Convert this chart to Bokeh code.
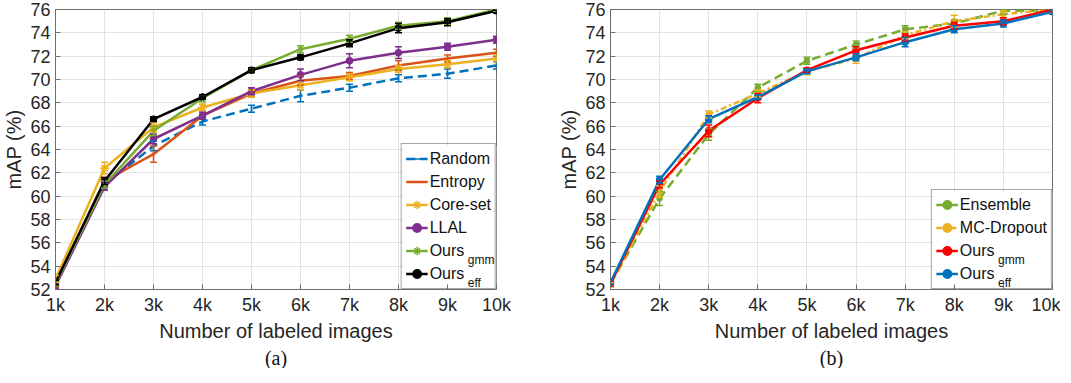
import math
from bokeh.plotting import figure
from bokeh.models import (ColumnDataSource, Whisker, TeeHead, Legend, LegendItem,
                          Title, FixedTicker, Range1d, BoxAnnotation)
from bokeh.core.properties import value
from bokeh.layouts import row
from bokeh.embed import file_html
from bokeh.resources import INLINE

# ---------------- data ----------------
x_vals = [1, 2, 3, 4, 5, 6, 7, 8, 9, 10]
x_labels = ["1k", "2k", "3k", "4k", "5k", "6k", "7k", "8k", "9k", "10k"]
y_ticks = [52, 54, 56, 58, 60, 62, 64, 66, 68, 70, 72, 74, 76]

# panel (a)
random_y = [52.5, 61.0, 64.3, 66.4, 67.5, 68.6, 69.3, 70.1, 70.5, 71.2]
random_e = [0.2, 0.3, 0.4, 0.3, 0.3, 0.5, 0.3, 0.3, 0.4, 0.3]
entropy_y = [52.4, 61.3, 63.6, 66.9, 68.8, 69.9, 70.3, 71.2, 71.8, 72.3]
entropy_e = [0.2, 0.3, 0.7, 0.3, 0.3, 0.4, 0.3, 0.4, 0.3, 0.3]
coreset_y = [52.9, 62.4, 65.9, 67.6, 68.8, 69.5, 70.2, 70.9, 71.3, 71.8]
coreset_e = [0.3, 0.5, 0.4, 0.3, 0.3, 0.4, 0.3, 0.3, 0.3, 0.3]
llal_y = [52.3, 60.8, 64.9, 66.9, 69.0, 70.4, 71.6, 72.3, 72.8, 73.4]
llal_e = [0.2, 0.3, 0.4, 0.3, 0.3, 0.5, 0.6, 0.5, 0.3, 0.3]
gmm_a_y = [52.5, 61.0, 65.6, 68.4, 70.8, 72.6, 73.5, 74.6, 75.0, 76.0]
gmm_a_e = [0.2, 0.3, 0.4, 0.3, 0.2, 0.3, 0.3, 0.3, 0.3, 0.2]
eff_a_y = [52.6, 61.3, 66.6, 68.5, 70.8, 71.9, 73.1, 74.4, 74.9, 75.9]
eff_a_e = [0.2, 0.3, 0.2, 0.2, 0.2, 0.2, 0.3, 0.4, 0.3, 0.2]

# panel (b)
ensemble_y = [52.5, 59.8, 65.3, 69.3, 71.6, 73.0, 74.3, 74.8, 75.9, 75.9]
ensemble_e = [0.2, 0.6, 0.5, 0.3, 0.3, 0.3, 0.3, 0.3, 0.3, 0.2]
mcdrop_y = [52.4, 60.4, 67.0, 68.8, 70.7, 71.8, 73.8, 75.0, 75.6, 76.0]
mcdrop_e = [0.2, 0.5, 0.3, 0.3, 0.3, 0.4, 0.3, 0.5, 0.3, 0.2]
gmm_b_y = [52.5, 61.0, 65.6, 68.4, 70.8, 72.5, 73.6, 74.6, 75.0, 76.0]
gmm_b_e = [0.2, 0.3, 0.5, 0.4, 0.2, 0.3, 0.3, 0.3, 0.3, 0.2]
eff_b_y = [52.6, 61.4, 66.6, 68.5, 70.7, 71.9, 73.2, 74.3, 74.8, 75.8]
eff_b_e = [0.2, 0.3, 0.3, 0.2, 0.2, 0.3, 0.4, 0.3, 0.3, 0.2]

FONT = "Liberation Sans"
FRAME_H = 280
PAD, GLYPH_W, STANDOFF, ROW_H, SPACING = 4, 22, 2, 21, 2


def make_fig(frame_w, border_l, border_r, tag):
    p = figure(frame_width=frame_w, frame_height=FRAME_H,
               x_range=Range1d(1, 10), y_range=Range1d(52, 76),
               output_backend="svg", toolbar_location=None,
               min_border_left=border_l, min_border_right=border_r,
               min_border_top=9, min_border_bottom=2)
    p.xaxis.ticker = FixedTicker(ticks=x_vals)
    p.xaxis.major_label_overrides = {xv: lab for xv, lab in zip(x_vals, x_labels)}
    p.yaxis.ticker = FixedTicker(ticks=y_ticks)
    for ax in (p.xaxis, p.yaxis):
        ax.major_label_text_font = FONT
        ax.major_label_text_font_size = "18px"
        ax.major_label_text_color = "#262626"
        ax.axis_label_text_font = FONT
        ax.axis_label_text_font_size = "20px"
        ax.axis_label_text_font_style = "normal"
        ax.axis_label_text_color = "#262626"
        ax.axis_line_color = "#6e6e6e"
        ax.major_tick_line_color = "#6e6e6e"
        ax.major_tick_in = 5
        ax.major_tick_out = 0
        ax.minor_tick_line_color = None
        ax.major_label_standoff = 5
        ax.axis_label_standoff = 2
    p.xaxis.axis_label = "Number of labeled images"
    p.yaxis.axis_label = "mAP (%)"
    p.grid.grid_line_color = "#e3e3e3"
    p.outline_line_color = "#6e6e6e"
    p.outline_line_width = 1
    p.add_layout(Title(text=tag, align="center", text_font="Liberation Serif",
                       text_font_size="20px", text_font_style="normal",
                       text_color="#111111", standoff=0), "below")
    return p


def series(p, y, e, color, dash="solid", marker=None, msize=6, lw=2.5):
    src = ColumnDataSource(dict(x=x_vals, y=y,
                                lo=[a - b for a, b in zip(y, e)],
                                hi=[a + b for a, b in zip(y, e)]))
    w = Whisker(source=src, base="x", lower="lo", upper="hi",
                line_color=color, line_width=1.5, level="glyph",
                upper_head=TeeHead(size=7, line_color=color, line_width=1.5),
                lower_head=TeeHead(size=7, line_color=color, line_width=1.5))
    p.add_layout(w)
    rs = [p.line("x", "y", source=src, line_color=color, line_width=lw, line_dash=dash)]
    # vertical tick at each point (sits inside the error bar; gives the legend its "I")
    rs.append(p.scatter("x", "y", source=src, marker="dash", angle=math.pi / 2, size=6,
                        line_color=color, line_width=1.5))
    if marker:
        rs.append(p.scatter("x", "y", source=src, marker=marker, size=msize,
                            line_color=color, fill_color=color, line_width=1.5))
    return rs


def add_legend(p, items, frame_w, sub_specs, max_label_px):
    n = len(items)
    px_x = 9.0 / frame_w
    px_y = 24.0 / FRAME_H
    leg_w = 2 * PAD + GLYPH_W + STANDOFF + max_label_px
    leg_h = 2 * PAD + n * ROW_H + (n - 1) * SPACING
    # white backing under the (transparent) legend so grid lines stay hidden
    p.add_layout(BoxAnnotation(left=10 - leg_w * px_x, right=10, bottom=52,
                               top=52 + leg_h * px_y, fill_color="white", fill_alpha=1.0,
                               line_color=None, level="underlay"))
    leg = Legend(items=[LegendItem(label=l, renderers=r) for l, r in items],
                 location="bottom_right", margin=0, padding=PAD, spacing=SPACING,
                 label_height=ROW_H, glyph_height=ROW_H, glyph_width=GLYPH_W,
                 label_standoff=STANDOFF,
                 label_text_font=FONT, label_text_font_size="16px",
                 label_text_color="#111111",
                 border_line_color="#4d4d4d", border_line_width=1,
                 background_fill_alpha=0.0)
    p.add_layout(leg)
    # subscripts placed after the "Ours" label text
    ours_w = 2.167 * 16
    sub_left_px = frame_w - leg_w + PAD + GLYPH_W + STANDOFF + ours_w + 2
    xs, ys, ts = [], [], []
    for idx, txt in sub_specs:
        k_from_bottom = n - 1 - idx
        cy = PAD + ROW_H / 2 + k_from_bottom * (ROW_H + SPACING)
        xs.append(1 + sub_left_px * px_x)
        ys.append(52 + (cy - 8) * px_y)
        ts.append(txt)
    p.text(x=xs, y=ys, text=ts, text_font=value(FONT), text_font_size="12px",
           text_color="#111111", text_baseline="middle", text_align="left")


# ---------------- panel (a) ----------------
pa = make_fig(441, 50, 39, "(a)")
r_random = series(pa, random_y, random_e, "#0072BD", dash="9 5")
r_entropy = series(pa, entropy_y, entropy_e, "#D95319")
r_coreset = series(pa, coreset_y, coreset_e, "#EDB120", marker="asterisk", msize=9)
r_llal = series(pa, llal_y, llal_e, "#7E2F8E", marker="circle", msize=6)
r_gmm_a = series(pa, gmm_a_y, gmm_a_e, "#77AC30", marker="asterisk", msize=6)
r_eff_a = series(pa, eff_a_y, eff_a_e, "#000000", marker="circle", msize=6)
add_legend(pa, [("Random", r_random), ("Entropy", r_entropy), ("Core-set", r_coreset),
                ("LLAL", r_llal), ("Ours", r_gmm_a), ("Ours", r_eff_a)],
           441, [(4, "gmm"), (5, "eff")], 3.834 * 16)

# ---------------- panel (b) ----------------
pb = make_fig(442, 75, 8, "(b)")
r_ens = series(pb, ensemble_y, ensemble_e, "#77AC30", dash="9 5", marker="circle", msize=5)
r_mc = series(pb, mcdrop_y, mcdrop_e, "#EDB120", dash="6 3 2 3", marker="circle", msize=5)
r_gmm_b = series(pb, gmm_b_y, gmm_b_e, "#FF0000", marker="circle", msize=6)
r_eff_b = series(pb, eff_b_y, eff_b_e, "#0072BD", marker="circle", msize=6)
add_legend(pb, [("Ensemble", r_ens), ("MC-Dropout", r_mc), ("Ours", r_gmm_b), ("Ours", r_eff_b)],
           442, [(2, "gmm"), (3, "eff")], 5.445 * 16)

layout = row(pa, pb)
open("out.html", "w").write(file_html(layout, INLINE))
